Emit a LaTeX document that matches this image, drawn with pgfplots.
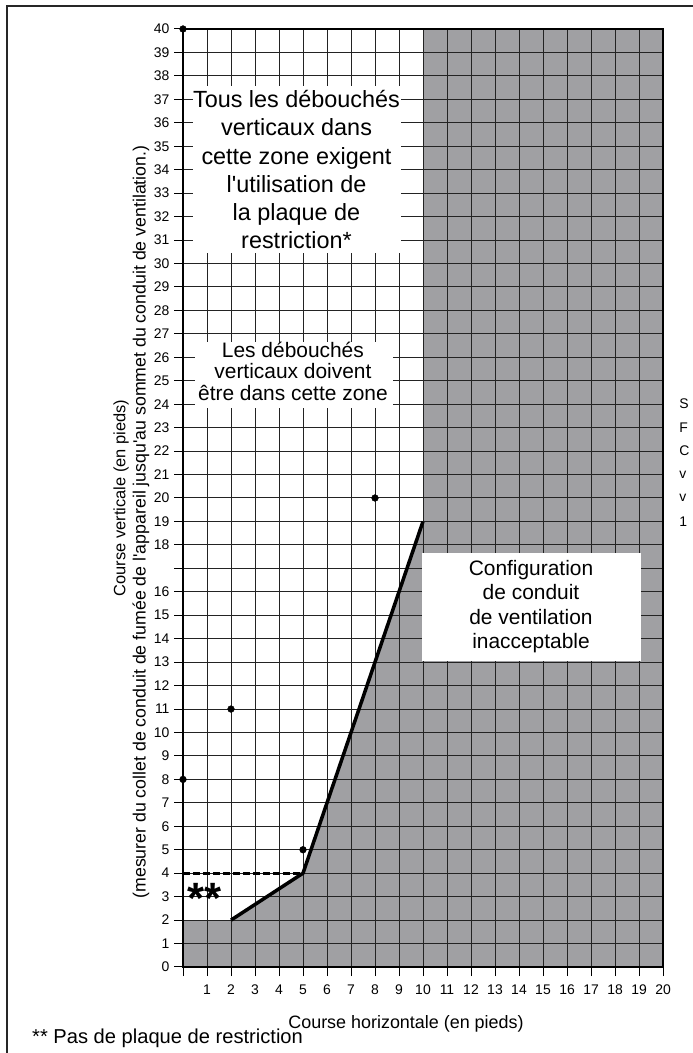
\documentclass[border=0pt]{standalone}
\usepackage{pgfplots}
\pgfplotsset{compat=1.18}
\usepackage{fontspec}
\setmainfont{Liberation Sans}
\definecolor{zonegray}{RGB}{160,160,163}
\definecolor{gridc}{RGB}{35,35,35}

\begin{document}
\begin{tikzpicture}[x=1bp,y=1bp]
\begin{axis}[
  set layers,
  at={(183bp,86bp)}, anchor=south west,
  scale only axis, width=480bp, height=938bp,
  xmin=0, xmax=20, ymin=0, ymax=40,
  xtick={0,...,20}, ytick={0,...,40},
  xticklabels={,1,2,3,4,5,6,7,8,9,10,11,12,13,14,15,16,17,18,19,20},
  yticklabels={0,1,2,3,4,5,6,7,8,9,10,11,12,13,14,15,16,,18,19,20,21,22,23,24,25,26,27,28,29,30,31,32,33,34,35,36,37,38,39,40},
  grid=major, grid style={gridc, line width=1bp},
  tick align=outside, tick pos=left, major tick length=9bp,
  tick style={black, line width=1bp},
  axis line style={black, line width=1.8bp},
  tick label style={font=\fontsize{14}{16}\selectfont},
  xticklabel style={yshift=-5bp},
  yticklabel style={xshift=-1bp},
  clip=false,
]
% zone inacceptable
\addplot[fill=zonegray, draw=none, on layer=axis background]
  coordinates {(0,2) (2,2) (5,4) (10,19) (10,40) (20,40)} \closedcycle;

% limite
\addplot[black, line width=3.5bp] coordinates {(2,2) (5,4) (10,19)};
\addplot[black, line width=3bp, dash pattern=on 7bp off 3bp] coordinates {(0,4) (5,4)};

% points
\addplot[only marks, mark=*, mark size=3.4pt, black, mark options={fill=black}]
  coordinates {(0,40) (0,8) (2,11) (5,5) (8,20)};

% boites de texte
\fill[white] (axis cs:0.4,30.46) rectangle (axis cs:9.1,37.57);
\node[align=center, inner sep=0, font=\fontsize{23.5}{28.3}\selectfont] at (axis cs:4.73,34.0)
  {Tous les débouchés\\verticaux dans\\cette zone exigent\\l\textquotesingle utilisation de\\la plaque de\\restriction*};

\fill[white] (axis cs:0.5,23.85) rectangle (axis cs:8.75,26.65);
\node[align=center, inner sep=0, font=\fontsize{21}{21.8}\selectfont] at (axis cs:4.58,25.4)
  {Les débouchés\\verticaux doivent\\être dans cette zone};

\fill[white] (axis cs:9.95,13.07) rectangle (axis cs:19.08,17.65);
\node[align=center, inner sep=0, font=\fontsize{21}{24.4}\selectfont] at (axis cs:14.5,15.37)
  {Configuration\\de conduit\\de ventilation\\inacceptable};

\node[anchor=base, inner sep=0, font=\fontsize{44}{44}\selectfont\bfseries] at (axis cs:0.9,2.3) {**};

% texte coupe a droite
\node[anchor=west, inner sep=0, font=\fontsize{14}{16}\selectfont] at (axis cs:20.67,24) {S};
\node[anchor=west, inner sep=0, font=\fontsize{14}{16}\selectfont] at (axis cs:20.67,23) {F};
\node[anchor=west, inner sep=0, font=\fontsize{14}{16}\selectfont] at (axis cs:20.67,22) {C};
\node[anchor=west, inner sep=0, font=\fontsize{14}{16}\selectfont] at (axis cs:20.67,21) {v};
\node[anchor=west, inner sep=0, font=\fontsize{14}{16}\selectfont] at (axis cs:20.67,20) {v};
\node[anchor=west, inner sep=0, font=\fontsize{14}{16}\selectfont] at (axis cs:20.67,19) {1};
\end{axis}

% titres des axes
\node[rotate=90, inner sep=0, font=\fontsize{16.5}{18}\selectfont] at (121bp,555bp)
  {Course verticale (en pieds)};
\node[rotate=90, inner sep=0, font=\fontsize{17.8}{19}\selectfont] at (141bp,531bp)
  {(mesurer du collet de conduit de fumée de l\textquotesingle appareil jusqu\textquotesingle au sommet du conduit de ventilation.)};
\node[anchor=base, inner sep=0, font=\fontsize{18}{21}\selectfont] at (406bp,25bp)
  {Course horizontale (en pieds)};
\node[anchor=base west, inner sep=0, font=\fontsize{20.2}{24}\selectfont] at (32bp,10bp)
  {** Pas de plaque de restriction};

% cadre
\draw[line width=2.2bp, black!85] (7bp,-30bp) -- (7bp,1047bp) -- (760bp,1047bp);

\pgfresetboundingbox
\path[use as bounding box] (0,0) rectangle (693bp,1053bp);
\end{tikzpicture}
\end{document}
